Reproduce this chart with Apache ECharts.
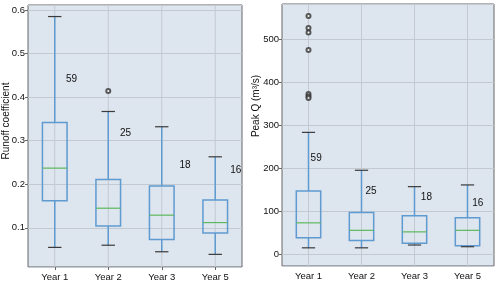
<!DOCTYPE html>
<html>
<head>
<meta charset="utf-8">
<script src="https://cdn.jsdelivr.net/npm/echarts@6/dist/echarts.min.js"></script>
<style>html,body{margin:0;padding:0;background:#fff}#c{width:500px;height:284px}</style>
</head>
<body>
<div id="c"></div>
<script>
// ---- data ----
const categories = ['Year 1', 'Year 2', 'Year 3', 'Year 5'];
// [lower whisker, Q1, median, Q3, upper whisker]
const runoffStats = [
  [0.055, 0.162, 0.237, 0.342, 0.585],
  [0.060, 0.104, 0.145, 0.211, 0.367],
  [0.045, 0.073, 0.129, 0.196, 0.332],
  [0.039, 0.088, 0.112, 0.164, 0.263]
];
const runoffOutliers = [[1, 0.414]];
const peakStats = [
  [16, 39.5, 74, 148, 284],
  [16, 33, 56.6, 98, 196],
  [22.5, 26.4, 53, 90.5, 158],
  [18.6, 21, 56.6, 86, 162]
];
const peakOutliers = [[0, 554], [0, 526], [0, 516], [0, 475], [0, 373], [0, 368], [0, 364]];
const counts = [59, 25, 18, 16];
// annotation anchors: value on y, offset along category axis
const runoffLabelY = [0.441, 0.318, 0.2445, 0.232];
const runoffLabelDx = [0.21, 0.22, 0.33, 0.28];
const peakLabelY = [224, 147, 133, 119];
const peakLabelDx = [0.04, 0.075, 0.12, 0.09];

// ---- styles ----
const FONT = 'Liberation Sans';
const BG = '#dde5ee';
const GRIDC = '#c4c9d1';
const BOXC = '#5f9ad0';
const MEDC = '#5cb85c';
const CAPC = '#3a3a3a';
const FRAME = '#666666';
const TXT = '#111111';

function boxRender(params, api) {
  const i = api.value(0);
  const lo = api.coord([i, api.value(1)]);
  const q1 = api.coord([i, api.value(2)]);
  const md = api.coord([i, api.value(3)]);
  const q3 = api.coord([i, api.value(4)]);
  const hi = api.coord([i, api.value(5)]);
  const unit = api.size([1, 0])[0];
  const bw = unit * 0.46, cw = unit * 0.25;
  const x = lo[0];
  return {
    type: 'group',
    children: [
      {type: 'line', shape: {x1: x, y1: q3[1], x2: x, y2: hi[1]}, style: {stroke: BOXC, lineWidth: 1.5}},
      {type: 'line', shape: {x1: x, y1: q1[1], x2: x, y2: lo[1]}, style: {stroke: BOXC, lineWidth: 1.5}},
      {type: 'rect', shape: {x: x - bw / 2, y: q3[1], width: bw, height: q1[1] - q3[1]}, style: {fill: 'none', stroke: BOXC, lineWidth: 1.5}},
      {type: 'line', shape: {x1: x - bw / 2, y1: md[1], x2: x + bw / 2, y2: md[1]}, style: {stroke: MEDC, lineWidth: 1.2}},
      {type: 'line', shape: {x1: x - cw / 2, y1: hi[1], x2: x + cw / 2, y2: hi[1]}, style: {stroke: CAPC, lineWidth: 1.2}},
      {type: 'line', shape: {x1: x - cw / 2, y1: lo[1], x2: x + cw / 2, y2: lo[1]}, style: {stroke: CAPC, lineWidth: 1.2}}
    ]
  };
}
function vgridRender(params, api) {
  const i = api.value(0);
  const p = api.coord([i, api.value(1)]);
  const cs = params.coordSys;
  return {type: 'line', shape: {x1: p[0], y1: cs.y, x2: p[0], y2: cs.y + cs.height}, style: {stroke: GRIDC, lineWidth: 1}};
}
function textRender(params, api) {
  const i = api.value(0);
  const p = api.coord([i, api.value(1)]);
  const unit = api.size([1, 0])[0];
  return {type: 'text', x: p[0] + api.value(2) * unit, y: p[1],
    style: {text: String(api.value(3)), fill: TXT, font: '10px "' + FONT + '"', align: 'left', verticalAlign: 'middle'}};
}

const boxDataR = runoffStats.map((s, i) => [i].concat(s));
const boxDataP = peakStats.map((s, i) => [i].concat(s));
const gridDataR = categories.map((c, i) => [i, 0.3]);
const gridDataP = categories.map((c, i) => [i, 100]);
const txtR = counts.map((n, i) => [i, runoffLabelY[i], runoffLabelDx[i], n]);
const txtP = counts.map((n, i) => [i, peakLabelY[i], peakLabelDx[i], n]);

function xAxisCfg(idx) {
  return {
    type: 'category', gridIndex: idx, data: categories, boundaryGap: true,
    axisLine: {show: false},
    axisTick: {show: true, alignWithLabel: true, length: 3, lineStyle: {color: FRAME}},
    axisLabel: {color: TXT, fontFamily: FONT, fontSize: 9.5, margin: 5},
    splitLine: {show: false}
  };
}
function yAxisCfg(idx, min, max, fmt) {
  return {
    type: 'value', gridIndex: idx, min: min, max: max,
    axisLine: {show: false},
    axisTick: {show: true, length: 3, lineStyle: {color: FRAME}},
    axisLabel: {color: TXT, fontFamily: FONT, fontSize: 9.5, margin: 3, showMinLabel: false, showMaxLabel: false, formatter: fmt},
    splitLine: {show: true, lineStyle: {color: GRIDC, width: 1}}
  };
}

const chart = echarts.init(document.getElementById('c'), null, {renderer: 'canvas'});
chart.setOption({
  backgroundColor: '#ffffff',
  animation: false,
  grid: [
    {left: 28, top: 5, width: 214, height: 262, show: true, backgroundColor: BG, borderColor: FRAME, borderWidth: 1},
    {left: 282, top: 4, width: 212, height: 262, show: true, backgroundColor: BG, borderColor: FRAME, borderWidth: 1}
  ],
  xAxis: [xAxisCfg(0), xAxisCfg(1)],
  yAxis: [
    yAxisCfg(0, 0.010, 0.6115, v => v.toFixed(1)),
    yAxisCfg(1, -26.2, 582, v => String(Math.round(v)))
  ],
  graphic: [
    {type: 'text', x: 6, y: 121, rotation: Math.PI / 2, style: {text: 'Runoff coefficient', fill: TXT, font: '10px "' + FONT + '"', align: 'center', verticalAlign: 'middle'}},
    {type: 'text', x: 256, y: 106, rotation: Math.PI / 2, style: {text: 'Peak Q (m³/s)', fill: TXT, font: '10px "' + FONT + '"', align: 'center', verticalAlign: 'middle'}}
  ],
  series: [
    {type: 'custom', xAxisIndex: 0, yAxisIndex: 0, renderItem: vgridRender, data: gridDataR, z: 1, silent: true},
    {type: 'custom', xAxisIndex: 1, yAxisIndex: 1, renderItem: vgridRender, data: gridDataP, z: 1, silent: true},
    {type: 'custom', xAxisIndex: 0, yAxisIndex: 0, renderItem: boxRender, data: boxDataR, encode: {x: 0, y: [1, 2, 3, 4, 5]}, z: 3},
    {type: 'custom', xAxisIndex: 1, yAxisIndex: 1, renderItem: boxRender, data: boxDataP, encode: {x: 0, y: [1, 2, 3, 4, 5]}, z: 3},
    {type: 'scatter', xAxisIndex: 0, yAxisIndex: 0, data: runoffOutliers, symbol: 'emptyCircle', symbolSize: 4, itemStyle: {color: '#333', borderColor: '#333', borderWidth: 0.8}, z: 4},
    {type: 'scatter', xAxisIndex: 1, yAxisIndex: 1, data: peakOutliers, symbol: 'emptyCircle', symbolSize: 4, itemStyle: {color: '#333', borderColor: '#333', borderWidth: 0.8}, z: 4},
    {type: 'custom', xAxisIndex: 0, yAxisIndex: 0, renderItem: textRender, data: txtR, encode: {x: 0, y: 1}, z: 5},
    {type: 'custom', xAxisIndex: 1, yAxisIndex: 1, renderItem: textRender, data: txtP, encode: {x: 0, y: 1}, z: 5}
  ]
});
</script>
</body>
</html>
